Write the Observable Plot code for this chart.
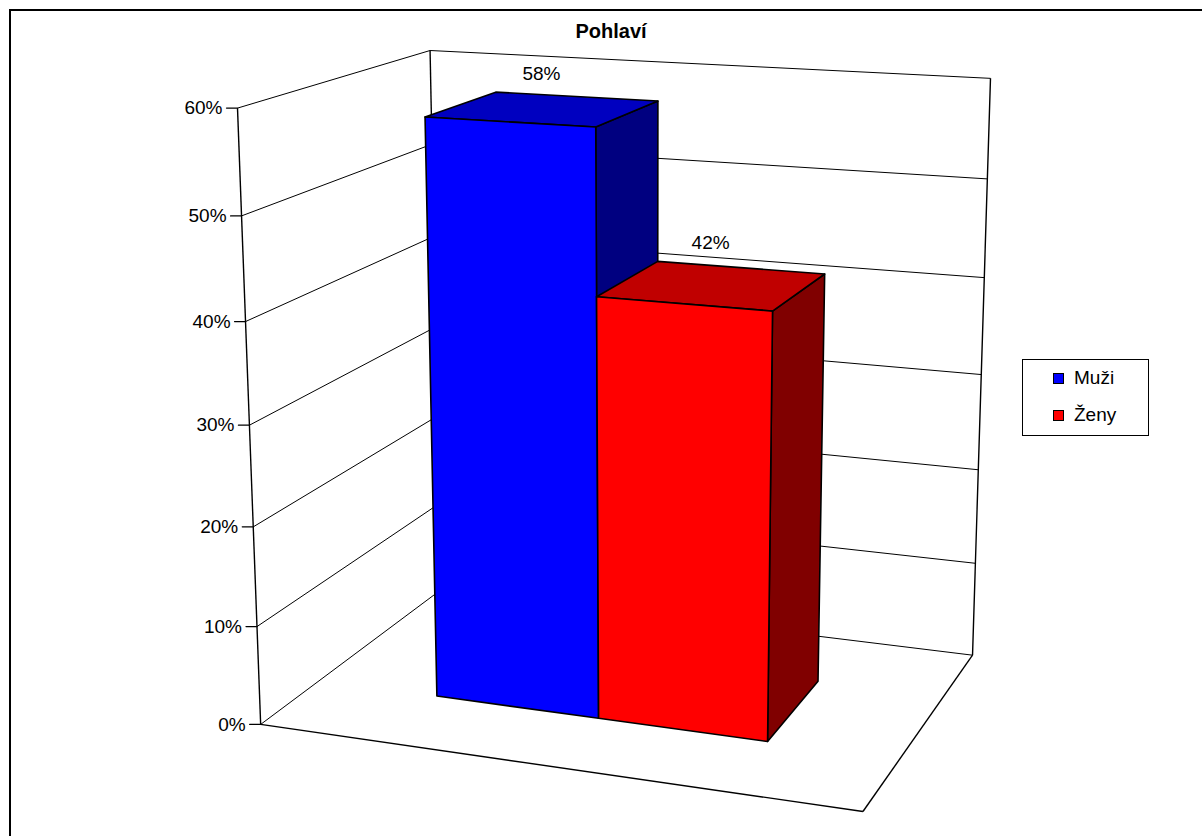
<!DOCTYPE html>
<html>
<head>
<meta charset="utf-8">
<script src="https://cdn.jsdelivr.net/npm/d3@7"></script>
<script src="https://cdn.jsdelivr.net/npm/@observablehq/plot@0.6"></script>
<style>
  html, body { margin: 0; padding: 0; background: #fff; }
  #chart { position: relative; width: 1202px; height: 836px; overflow: hidden;
           font-family: "Liberation Sans", Arial, Helvetica, sans-serif; color: #000; }
  #chart svg { position: absolute; left: 0; top: 0; }
  .frame { position: absolute; left: 9px; top: 9px; width: 1400px; height: 1000px;
           border-left: 2px solid #000; border-top: 2px solid #000; }
  .title { position: absolute; left: 461px; width: 300px; top: 19px; text-align: center;
           font-weight: bold; font-size: 20px; line-height: 24px; }
  .legend { position: absolute; left: 1022px; top: 359px; width: 125px; height: 75px;
            border: 1px solid #000; font-size: 19px; background: #fff; }
  .legend .item { position: absolute; left: 30px; height: 24px; display: flex; align-items: center; }
  .legend .swatch { width: 9px; height: 9px; border: 1px solid #000; margin-right: 10px; }
</style>
</head>
<body>
<div id="chart"></div>
<script>
// ---- data ----
const series = ["Muži", "Ženy"];
const shares = [0.58, 0.42];
const shareLabels = ["58%", "42%"];
const tickValues = [0, 0.1, 0.2, 0.3, 0.4, 0.5, 0.6];
const tickLabels = ["0%", "10%", "20%", "30%", "40%", "50%", "60%"];
const chartTitle = "Pohlaví";

// ---- styles ----
const frontColors = ["#0000ff", "#ff0000"];
const topColors = ["#0000c0", "#c00000"];
const sideColors = ["#000080", "#800000"];
const FONT = "Liberation Sans, Arial, Helvetica, sans-serif";

// ---- 3D space: X across the floor (0..1), Y value axis (0..1), Z depth (0..DEPTH) ----
const DEPTH = 0.7;
const heightScale = Plot.scale({y: {domain: d3.extent(tickValues), range: [0, 1]}});
const acrossScale = Plot.scale({x: {type: "band", domain: series, range: [0, 1], paddingInner: 0, paddingOuter: 0.75}});
const barFront = 0.3 * DEPTH, barBack = 0.7 * DEPTH;
const X0 = 0, X1 = 1, Z0 = 0, Z1 = DEPTH;
const Y0 = heightScale.apply(tickValues[0]);
const YTOP = heightScale.apply(tickValues[tickValues.length - 1]);

// ---- perspective camera (rotation 20°, elevation 14°) ----
const rad = Math.PI / 180;
const yaw = 20 * rad, pitch = 14 * rad;
const eye = [1.96, 1.624, -3.565];
const camRight = [Math.cos(yaw), 0, Math.sin(yaw)];
const camFwd = [-Math.sin(yaw) * Math.cos(pitch), -Math.sin(pitch), Math.cos(yaw) * Math.cos(pitch)];
const camDown = [Math.sin(yaw) * Math.sin(pitch), -Math.cos(pitch), -Math.cos(yaw) * Math.sin(pitch)];
function project([X, Y, Z]) {
  const v = [X - eye[0], Y - eye[1], Z - eye[2]];
  const dot = (a) => a[0] * v[0] + a[1] * v[1] + a[2] * v[2];
  const d = dot(camFwd);
  return {x: dot(camRight) / d, y: -dot(camDown) / d};
}
const seg = (p, q) => ({a: project(p), b: project(q)});

// walls: gridlines on the side wall and the back wall
const gridSide = tickValues.map(v => seg([X0, heightScale.apply(v), Z0], [X0, heightScale.apply(v), Z1]));
const gridBack = tickValues.map(v => seg([X0, heightScale.apply(v), Z1], [X1, heightScale.apply(v), Z1]));
// box edges
const edges = [
  seg([X0, Y0, Z0], [X0, YTOP, Z0]),   // value axis
  seg([X0, Y0, Z1], [X0, YTOP, Z1]),   // back-left corner
  seg([X1, Y0, Z1], [X1, YTOP, Z1]),   // back-right corner
  seg([X0, Y0, Z0], [X1, Y0, Z0]),     // floor front
  seg([X1, Y0, Z0], [X1, Y0, Z1])      // floor right
];
const allSegs = [...gridSide, ...gridBack, ...edges];
const xDomain = d3.extent(allSegs.flatMap(s => [s.a.x, s.b.x]));
const yDomain = d3.extent(allSegs.flatMap(s => [s.a.y, s.b.y]));

// axis ticks and labels
const axisPts = tickValues.map((v, i) => ({...project([X0, heightScale.apply(v), Z0]), label: tickLabels[i]}));

// bars: side, top, front faces; value label centred above each bar's outline
const barMarks = [];
const valueLabels = [];
series.forEach((s, i) => {
  const x0 = acrossScale.apply(s), x1 = x0 + acrossScale.bandwidth;
  const h = heightScale.apply(shares[i]);
  const faces = [
    {pts: [[x1, Y0, barFront], [x1, Y0, barBack], [x1, h, barBack], [x1, h, barFront]], fill: sideColors[i]},
    {pts: [[x0, h, barFront], [x1, h, barFront], [x1, h, barBack], [x0, h, barBack]], fill: topColors[i]},
    {pts: [[x0, Y0, barFront], [x1, Y0, barFront], [x1, h, barFront], [x0, h, barFront]], fill: frontColors[i]}
  ];
  const projected = [];
  for (const f of faces) {
    const pts = f.pts.map(project);
    projected.push(...pts);
    barMarks.push(Plot.line(pts, {
      x: "x", y: "y", curve: "linear-closed", fill: f.fill,
      stroke: "#000", strokeWidth: 1.6, strokeLinejoin: "round"
    }));
  }
  const [bx0, bx1] = d3.extent(projected, p => p.x);
  valueLabels.push({x: (bx0 + bx1) / 2, y: d3.max(projected, p => p.y), label: shareLabels[i]});
});

const linkOpts = {x1: d => d.a.x, y1: d => d.a.y, x2: d => d.b.x, y2: d => d.b.y, stroke: "#000"};
const tickShape = {draw(context, l) { context.moveTo(0, 0); context.lineTo(0, -l); }};

const plot = Plot.plot({
  width: 1202,
  height: 836,
  marginLeft: 237, marginRight: 212, marginTop: 50, marginBottom: 25,
  style: {background: "transparent", fontFamily: FONT, color: "#000"},
  x: {domain: xDomain, axis: null},
  y: {domain: yDomain, axis: null},
  marks: [
    Plot.link(gridSide, {...linkOpts, strokeWidth: 1}),
    Plot.link(gridBack, {...linkOpts, strokeWidth: 1}),
    Plot.link(edges, {...linkOpts, strokeWidth: 1.4}),
    Plot.vector(axisPts, {x: "x", y: "y", length: 11, rotate: -90, anchor: "start", shape: tickShape, stroke: "#000", strokeWidth: 1.2}),
    Plot.text(axisPts, {x: "x", y: "y", text: "label", textAnchor: "end", dx: -15, fontSize: 19, fill: "#000"}),
    ...barMarks,
    Plot.text(valueLabels, {x: "x", y: "y", text: "label", dy: -18, fontSize: 19, fill: "#000"})
  ]
});

const chart = document.getElementById("chart");
const frame = document.createElement("div");
frame.className = "frame";
chart.appendChild(frame);
chart.appendChild(plot);

const title = document.createElement("div");
title.className = "title";
title.textContent = chartTitle;
chart.appendChild(title);

const legend = document.createElement("div");
legend.className = "legend";
series.forEach((s, i) => {
  const item = document.createElement("div");
  item.className = "item";
  item.style.top = (6 + i * 37) + "px";
  const sw = document.createElement("span");
  sw.className = "swatch";
  sw.style.background = frontColors[i];
  const tx = document.createElement("span");
  tx.textContent = s;
  item.appendChild(sw);
  item.appendChild(tx);
  legend.appendChild(item);
});
chart.appendChild(legend);
</script>
</body>
</html>
